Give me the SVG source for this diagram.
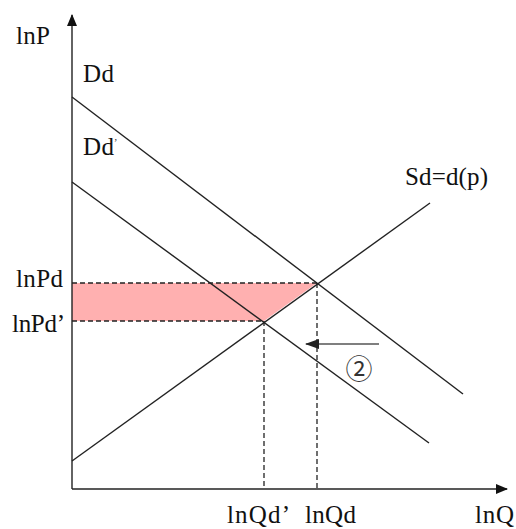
<svg xmlns="http://www.w3.org/2000/svg" width="516" height="529" viewBox="0 0 516 529">
<style>
text{font-family:"Liberation Serif","DejaVu Serif",serif;font-size:25px;fill:#111}
.ln{stroke:#222;stroke-width:1.4;fill:none}
.ds{stroke:#222;stroke-width:1.3;stroke-dasharray:5,3;fill:none}
</style>
<defs>
<marker id="ah" markerWidth="12" markerHeight="10" refX="11" refY="5" orient="auto" markerUnits="userSpaceOnUse">
<path d="M0,0 L12,5 L0,10 Z" fill="#111"/>
</marker>
<marker id="ah2" markerWidth="14" markerHeight="10" refX="13" refY="5" orient="auto" markerUnits="userSpaceOnUse">
<path d="M0,0 L14,5 L0,10 Z" fill="#222"/>
</marker>
</defs>
<g id="area"><polygon points="72,283 317,283 264,321 72,321" fill="#ffb0b0"/></g>
<g id="connectors">
<line class="ln" x1="72" y1="489" x2="72" y2="15" marker-end="url(#ah)"/>
<line class="ln" x1="72" y1="489" x2="507" y2="489" marker-end="url(#ah)"/>
<line class="ln" x1="72" y1="97" x2="463" y2="394"/>
<line class="ln" x1="72" y1="182" x2="429" y2="443"/>
<line class="ln" x1="72" y1="461" x2="430" y2="203"/>
<line class="ds" x1="72" y1="283" x2="317" y2="283"/>
<line class="ds" x1="72" y1="321" x2="264" y2="321"/>
<line class="ds" x1="317" y1="283" x2="317" y2="489"/>
<line class="ds" x1="264" y1="321" x2="264" y2="489"/>
<line x1="379" y1="344" x2="306" y2="344" stroke="#555" stroke-width="1.6" marker-end="url(#ah2)"/>
</g>
<g id="labels">
<text x="16" y="44" textLength="34">lnP</text>
<text x="83" y="82" textLength="31">Dd</text>
<text x="83" y="155" textLength="31">Dd</text><text x="114" y="146" style="font-size:10px">’</text>
<text x="16" y="287" textLength="47">lnPd</text>
<text x="12" y="332" textLength="53">lnPd’</text>
<text x="227" y="523" textLength="63">lnQd’</text>
<text x="305" y="523" textLength="51">lnQd</text>
<text x="475" y="523" textLength="39">lnQ</text>
<text x="405" y="185" textLength="83">Sd=d(p)</text>
<text x="359" y="379" text-anchor="middle" style="font-family:'Noto Sans CJK JP',sans-serif;font-size:27px;fill:#333">②</text>
</g>
</svg>
